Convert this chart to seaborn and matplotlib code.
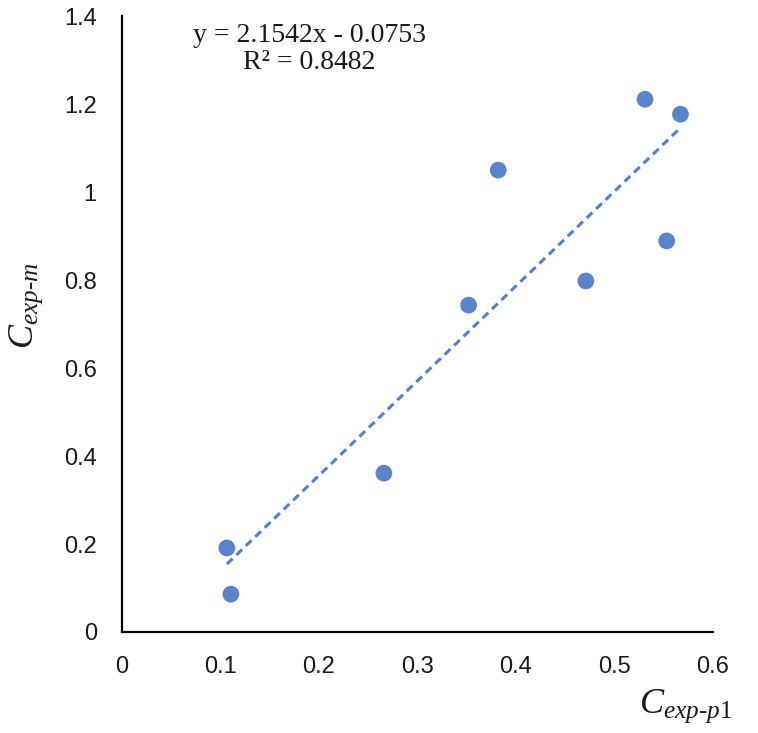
import numpy as np
import pandas as pd
import matplotlib
matplotlib.use('Agg')
import matplotlib.pyplot as plt
import seaborn as sns

# values
c_exp_p1 = [0.1066, 0.1107, 0.266, 0.352, 0.382, 0.471, 0.531, 0.553, 0.567]
c_exp_m = [0.191, 0.086, 0.361, 0.743, 1.050, 0.798, 1.211, 0.889, 1.177]
slope = 2.1542
intercept = -0.0753
r_squared = 0.8482
x_ticks = [0, 0.1, 0.2, 0.3, 0.4, 0.5, 0.6]
y_ticks = [0, 0.2, 0.4, 0.6, 0.8, 1, 1.2, 1.4]
y_tick_labels = ['0', '0.2', '0.4', '0.6', '0.8', '1', '1.2', '1.4']

sns.set_theme(style='white')
plt.rcParams['font.family'] = ['Liberation Sans', 'DejaVu Sans']
plt.rcParams['mathtext.fontset'] = 'custom'
plt.rcParams['mathtext.rm'] = 'Liberation Serif'
plt.rcParams['mathtext.it'] = 'Liberation Serif:italic'

blue = '#4472C4'

df = pd.DataFrame({'x': c_exp_p1, 'y': c_exp_m})
x_fit = np.array([min(c_exp_p1), max(c_exp_p1)])
fit = pd.DataFrame({'x': x_fit, 'y': slope * x_fit + intercept})

fig = plt.figure(figsize=(7.58, 7.33), dpi=100)
ax = fig.add_axes([0.1607, 0.1378, 0.7799, 0.8402])

sns.lineplot(data=fit, x='x', y='y', ax=ax, color=blue, linewidth=2.2,
             linestyle=(0, (2.6, 1.7)), alpha=0.9)
sns.scatterplot(data=df, x='x', y='y', ax=ax, color=blue, s=145,
                edgecolor='none', alpha=0.88, zorder=3)

ax.set_xlim(0, 0.6)
ax.set_ylim(0, 1.4)
ax.set_xticks(x_ticks)
ax.set_xticklabels([f'{v:g}' for v in x_ticks])
ax.set_yticks(y_ticks)
ax.set_yticklabels(y_tick_labels)
ax.tick_params(axis='x', length=0, labelsize=17, colors='#1a1a1a', pad=17)
ax.tick_params(axis='y', length=0, labelsize=17, colors='#1a1a1a', pad=18)
ax.set_xlabel('')
ax.set_ylabel('')
for side in ['top', 'right']:
    ax.spines[side].set_visible(False)
for side in ['left', 'bottom']:
    ax.spines[side].set_color('black')
    ax.spines[side].set_linewidth(1.6)

ax.text(0.190, 1.325, f'y = {slope}x - {abs(intercept)}\nR² = {r_squared}',
        ha='center', va='center', fontsize=20, family='Liberation Serif',
        linespacing=1.1, color='#1a1a1a')

fig.text(0.034, 0.583, r'$C_{exp\text{-}m}$', rotation=90, ha='center', va='center',
         fontsize=26, color='#1a1a1a')
fig.text(0.905, 0.037, r'$C_{exp\text{-}p1}$', ha='center', va='center',
         fontsize=26, color='#1a1a1a')

fig.savefig('out.png', dpi=100)
